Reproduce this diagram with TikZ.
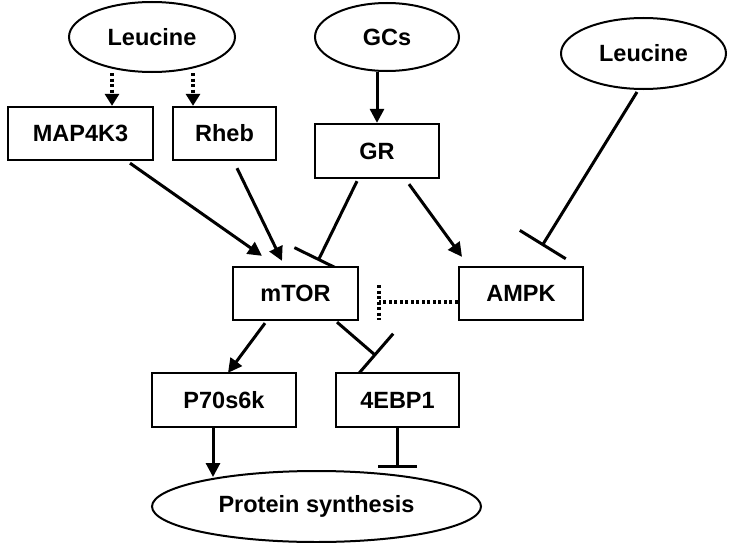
\documentclass[tikz,border=0pt]{standalone}
\usepackage{fontspec}
\setmainfont{Liberation Sans}
\usetikzlibrary{shapes.geometric,arrows.meta,calc}
\pgfdeclarelayer{bg}
\pgfsetlayers{bg,main}
\begin{document}
\begin{tikzpicture}[x=1pt,y=-1pt,
  every node/.style={font=\fontsize{23.5}{28}\selectfont\bfseries},
  box/.style={draw, line width=2.3pt, fill=white, minimum width=#1, minimum height=53pt, inner sep=0pt},
  oval/.style={ellipse, draw, line width=2pt, fill=white, inner sep=0pt},
  act/.style={line width=3pt, -{Triangle[length=14pt,width=14pt]}},
  inh/.style={line width=3pt, -{Bar[width=#1]}},
  dotline/.style={line width=3.5pt, dash pattern=on 3pt off 2.5pt},
  dotact/.style={dotline, -{Triangle[length=12pt,width=14pt]}},
]
\useasboundingbox (0,0) rectangle (733,543);

% ellipses
\node[oval, minimum width=166pt, minimum height=70pt] (l1) at (152,37) {Leucine};
\node[oval, minimum width=144pt, minimum height=68pt] (gcs) at (387,37) {GCs};
\node[oval, minimum width=165pt, minimum height=71pt] (l2) at (643.5,53.5) {Leucine};
\node[oval, minimum width=329pt, minimum height=71pt] (prot) at (316.5,506.5) {Protein synthesis};

% boxes
\node[box=145pt] (map) at (80.5,133.5) {MAP4K3};
\node[box=103pt] (rheb) at (224.5,133.5) {Rheb};
\node[box=124pt, minimum height=54pt] (gr) at (377,151) {GR};
\node[box=125pt] (mtor) at (295.5,293.5) {mTOR};
\node[box=124pt] (ampk) at (521,293.5) {AMPK};
\node[box=144pt, minimum height=54pt] (p70) at (224,400) {P70s6k};
\node[box=123pt, minimum height=54pt] (ebp) at (397.5,400) {4EBP1};

\begin{pgfonlayer}{bg}
% leucine -> MAP4K3, Rheb (dotted)
\draw[dotact] ([xshift=31.5pt]map.north |- l1.south) -- ([xshift=31.5pt]map.north);
\draw[dotact] ([xshift=-31.5pt]rheb.north |- l1.south) -- ([xshift=-31.5pt]rheb.north);
% GCs -> GR
\draw[act] (gr.north |- gcs.south) -- (gr.north);
% MAP4K3 -> mTOR
\draw[act] ([xshift=49.5pt,yshift=-2pt]map.south) -- ([xshift=-33.5pt,yshift=10pt]mtor.north);
% Rheb -> mTOR
\draw[act] ([xshift=12.5pt,yshift=-7pt]rheb.south) -- ([xshift=-13.5pt,yshift=5pt]mtor.north);
% GR -| mTOR
\draw[inh=54pt] ([xshift=-20pt,yshift=-2pt]gr.south) -- ([xshift=22.5pt,yshift=5pt]mtor.north);
% GR -> AMPK
\draw[act] ([xshift=32pt,yshift=-5pt]gr.south) -- ([xshift=-59pt,yshift=9pt]ampk.north);
% Leucine -| AMPK
\draw[inh=54pt] ([xshift=-6.5pt,yshift=-2pt]l2.south) -- ([xshift=21pt,yshift=20pt]ampk.north);
% AMPK -| mTOR (dotted)
\coordinate (dt) at ([xshift=20pt,yshift=8.5pt]mtor.east);
\coordinate (db) at ([xshift=20pt,yshift=-26.5pt]mtor.east);
\draw[dotline] ([yshift=-8.5pt]ampk.west) -- ([xshift=20pt,yshift=-8.5pt]mtor.east);
\draw[dotline] (dt) -- (db);
% mTOR -> P70s6k
\draw[act] ([xshift=-30.5pt,yshift=-2pt]mtor.south) -- ([xshift=4pt,yshift=-1pt]p70.north);
% mTOR -| 4EBP1
\draw[inh=56pt] ([xshift=41.5pt,yshift=-1pt]mtor.south) -- ([xshift=-21.5pt,yshift=16pt]ebp.north);
% P70s6k -> protein synthesis
\coordinate (px) at ([xshift=-11pt]p70.south);
\draw[act] (px) -- ($(px |- prot.north)+(0,7)$);
% 4EBP1 -| protein synthesis
\draw[inh=39pt] (ebp.south) -- ($(ebp.south |- prot.north)+(0,-2)$);
\end{pgfonlayer}
\end{tikzpicture}
\end{document}
